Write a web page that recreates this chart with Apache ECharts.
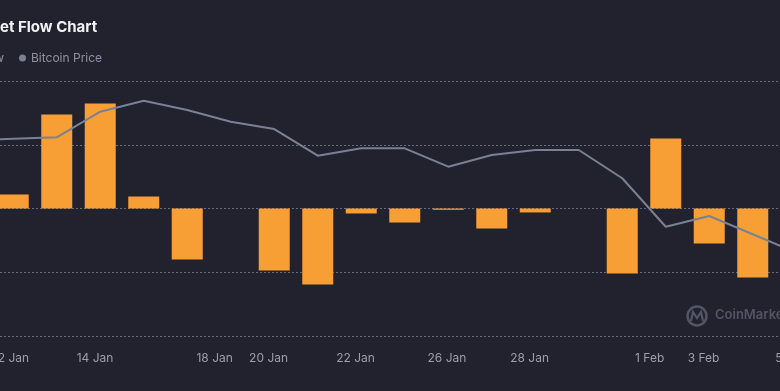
<!DOCTYPE html>
<html>
<head>
<meta charset="utf-8">
<script src="https://cdn.jsdelivr.net/npm/echarts@6/dist/echarts.min.js"></script>
<style>
html,body{margin:0;padding:0;background:#22222e;overflow:hidden;width:780px;height:391px;position:relative;}
#c{position:absolute;top:0;left:-52px;width:870px;height:391px;}
</style>
</head>
<body>
<div id="c"></div>
<script>
// ---- data ----
const categories = ['11 Jan','12 Jan','13 Jan','14 Jan','15 Jan','17 Jan','18 Jan','20 Jan','21 Jan','22 Jan','24 Jan','26 Jan','27 Jan','28 Jan','30 Jan','1 Feb','2 Feb','3 Feb','4 Feb','5 Feb'];
const netFlow = [null, 110, 737, 824, 94, -400, null, -486, -596, -39, -110, -10, -157, -31, null, -510, 549, -275, -541, null];
const btcPrice = [105330, 105470, 105580, 107590, 108450, 107720, 106810, 106230, 104140, 104720, 104720, 103280, 104200, 104590, 104590, 102370, 98570, 99410, 97980, 96540];
const tickLabels = ['12 Jan','14 Jan','18 Jan','20 Jan','22 Jan','26 Jan','28 Jan','1 Feb','3 Feb','5 Feb'];
const tickAt = [0.95, 2.88, 5.63, 6.87, 8.87, 10.97, 12.87, 15.63, 16.87, 18.88];

const OFF = 52; // container is shifted left by this many px
const FONT = 'Inter, "Noto Sans", sans-serif';
function textW(t, font){const c=document.createElement('canvas').getContext('2d');c.font=font;return c.measureText(t).width;}

const titleText = 'Bitcoin ETF Net Flow Chart';
const titleLeft = OFF - textW('Bitcoin ETF N', 'bold 15px ' + FONT);
const legendLeft = OFF + 19 - 15 - textW('Net Flow', '12px ' + FONT) - 5 - 7;

const chart = echarts.init(document.getElementById('c'), null, {renderer:'canvas'});
chart.setOption({
  backgroundColor: '#22222e',
  animation: false,
  title: {
    text: titleText, left: titleLeft, top: 20, padding: 0,
    textStyle: {color:'#f2f2f5', fontSize:15, fontWeight:'bold', fontFamily: FONT}
  },
  legend: {
    data: ['Net Flow','Bitcoin Price'], left: legendLeft, top: 52, padding: 0,
    icon: 'circle', itemWidth: 7, itemHeight: 7, itemGap: 15,
    textStyle: {color:'#8d91a0', fontSize:12, fontFamily: FONT}
  },
  grid: {left: 0, right: 0, top: 81, bottom: 55, containLabel: false},
  xAxis: [
    {type:'category', data: categories, show: false, boundaryGap: true},
    {type:'value', min: -0.5, max: categories.length - 0.5, position:'bottom',
     axisLine:{show:false}, axisTick:{show:false}, splitLine:{show:false},
     axisLabel:{customValues: tickAt, color:'#9b9eac', fontSize:12, fontFamily: FONT, margin: 16,
       formatter: function(v){ const i = tickAt.indexOf(v); return i >= 0 ? tickLabels[i] : ''; }}}
  ],
  yAxis: [
    {type:'value', min:-1000, max:1000, interval:500,
     axisLabel:{show:false}, axisLine:{show:false}, axisTick:{show:false},
     splitLine:{show:true, lineStyle:{color:'#6a6d7c', type:[2,2], width:1}}},
    {type:'value', min:90000, max:110000, show:false, splitLine:{show:false}}
  ],
  series: [
    {name:'Net Flow', type:'bar', data: netFlow, barWidth: 31, xAxisIndex:0, yAxisIndex:0,
     itemStyle:{color:'#f79e34'}, z:2},
    {name:'Bitcoin Price', type:'line', data: btcPrice, xAxisIndex:0, yAxisIndex:1,
     showSymbol:false, symbol:'none', lineStyle:{color:'#7a8195', width:2}, itemStyle:{color:'#7a8195'}, z:3}
  ],
  graphic: [
    {type:'circle', shape:{cx:OFF+697, cy:316, r:9.5}, style:{fill:'none', stroke:'#525565', lineWidth:2.5}, z:1},
    {type:'polyline', shape:{points:[[OFF+691,321],[OFF+693,312],[OFF+697,318],[OFF+701,312],[OFF+703,321]]}, style:{fill:'none', stroke:'#525565', lineWidth:2.2}, z:1},
    {type:'text', left: OFF+715, top: 309, style:{text:'CoinMarketCap', fill:'#525565', font:'600 13px ' + FONT}, z:1}
  ]
});
</script>
</body>
</html>
